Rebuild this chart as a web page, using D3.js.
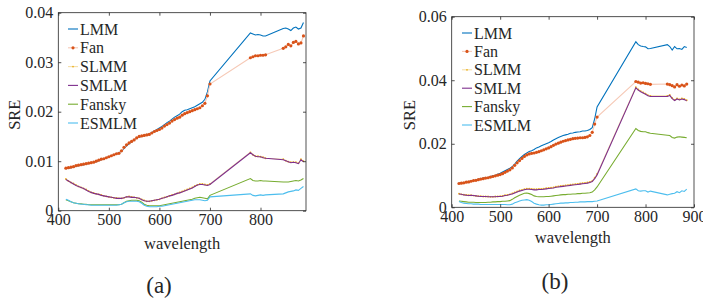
<!DOCTYPE html>
<html>
<head>
<meta charset="utf-8">
<script src="https://cdn.jsdelivr.net/npm/d3@7"></script>
<style>
body { margin: 0; background: #fff; }
</style>
</head>
<body>
<script>
// sampled wavelengths (bands 705-775 and 815-840 removed)
var wavelength = [
  415,420,425,430,435,440,445,450,455,460,
  465,470,475,480,485,490,495,500,505,510,
  515,520,525,530,535,540,545,550,555,560,
  565,570,575,580,585,590,595,600,605,610,
  615,620,625,630,635,640,645,650,655,660,
  665,670,675,680,685,690,695,700,
  780,785,790,795,800,805,810,
  845,850,855,860,865,870,875,880,885
];
var seriesNames = ["LMM", "Fan", "SLMM", "SMLM", "Fansky", "ESMLM"];

var xTicksA = [400, 500, 600, 700, 800];
var yTicksA = [0, 0.01, 0.02, 0.03, 0.04];
var xTicksB = [400, 500, 600, 700, 800, 900];
var yTicksB = [0, 0.02, 0.04, 0.06];

// panel (a)
var lmmA = [
  .0085,.0086,.0087,.0088,.0090,.0091,.0092,.0093,.0094,.0096,
  .0097,.0098,.0099,.0101,.0103,.0105,.0107,.0109,.0111,.0113,
  .0115,.0117,.0120,.0126,.0131,.0135,.0139,.0143,.0147,.0149,
  .0150,.0152,.0154,.0155,.0158,.0161,.0164,.0167,.0170,.0174,
  .0178,.0181,.0185,.0189,.0192,.0195,.0200,.0203,.0204,.0206,
  .0208,.0210,.0213,.0216,.0219,.0225,.0240,.0262,
  .0359,.0357,.0355,.0356,.0355,.0353,.0353,
  .0368,.0369,.0367,.0364,.0369,.0371,.0367,.0369,.0380
];
var fanA = [
  .0086,.0087,.0088,.0089,.0091,.0092,.0093,.0094,.0095,.0096,
  .0097,.0098,.0100,.0102,.0104,.0105,.0107,.0109,.0111,.0113,
  .0115,.0116,.0121,.0128,.0133,.0137,.0140,.0143,.0147,.0150,
  .0151,.0152,.0153,.0154,.0157,.0160,.0162,.0164,.0167,.0171,
  .0174,.0177,.0181,.0184,.0187,.0189,.0193,.0196,.0198,.0200,
  .0202,.0204,.0206,.0208,.0212,.0217,.0232,.0256,
  .0309,.0311,.0313,.0313,.0314,.0314,.0315,
  .0328,.0331,.0336,.0333,.0340,.0342,.0337,.0339,.0353
];
var slmmA = [
  .0064,.0060,.0057,.0055,.0052,.0049,.0047,.0045,.0043,.0040,
  .0037,.0036,.0034,.0033,.0032,.0030,.0029,.0028,.0027,.0026,
  .0026,.0025,.0025,.0026,.0028,.0029,.0028,.0027,.0026,.0025,
  .0023,.0021,.0019,.0019,.0020,.0021,.0022,.0023,.0025,.0027,
  .0028,.0030,.0032,.0033,.0035,.0037,.0039,.0041,.0043,.0045,
  .0047,.0050,.0052,.0054,.0054,.0053,.0052,.0054,
  .0118,.0113,.0110,.0110,.0109,.0108,.0106,
  .0104,.0101,.0099,.0098,.0098,.0098,.0096,.0104,.0100
];
var smlmA = [
  .0063,.0060,.0057,.0054,.0051,.0049,.0047,.0045,.0042,.0039,
  .0037,.0035,.0034,.0033,.0031,.0030,.0029,.0028,.0027,.0026,
  .0025,.0025,.0025,.0026,.0028,.0028,.0027,.0027,.0026,.0025,
  .0022,.0020,.0019,.0019,.0020,.0021,.0022,.0023,.0025,.0026,
  .0028,.0030,.0031,.0033,.0035,.0036,.0038,.0040,.0042,.0044,
  .0046,.0049,.0052,.0053,.0053,.0052,.0051,.0053,
  .0117,.0113,.0110,.0109,.0109,.0107,.0106,
  .0103,.0101,.0099,.0097,.0098,.0097,.0095,.0103,.0099
];
var fanskyA = [
  .0022,.0020,.0018,.0016,.0015,.0014,.0014,.0013,.0013,.0012,
  .0012,.0012,.0012,.0012,.0012,.0012,.0012,.0012,.0012,.0012,
  .0012,.0012,.0013,.0016,.0019,.0020,.0021,.0021,.0021,.0020,
  .0017,.0013,.0011,.0010,.0010,.0010,.0010,.0010,.0011,.0012,
  .0013,.0014,.0015,.0016,.0017,.0018,.0019,.0020,.0021,.0022,
  .0023,.0025,.0026,.0027,.0026,.0025,.0024,.0031,
  .0065,.0061,.0060,.0060,.0061,.0060,.0060,
  .0058,.0058,.0058,.0059,.0060,.0061,.0060,.0062,.0065
];
var esmlmA = [
  .0023,.0021,.0018,.0016,.0015,.0014,.0013,.0013,.0012,.0012,
  .0011,.0011,.0011,.0011,.0011,.0011,.0011,.0011,.0011,.0011,
  .0011,.0012,.0013,.0016,.0018,.0019,.0019,.0019,.0019,.0018,
  .0015,.0011,.0009,.0008,.0008,.0008,.0008,.0009,.0009,.0010,
  .0011,.0012,.0013,.0014,.0015,.0016,.0017,.0018,.0019,.0020,
  .0021,.0022,.0022,.0022,.0021,.0020,.0021,.0028,
  .0034,.0031,.0030,.0031,.0032,.0031,.0032,
  .0034,.0036,.0038,.0039,.0040,.0042,.0041,.0045,.0049
];

// panel (b)
var lmmB = [
  .0076,.0077,.0078,.0079,.0081,.0083,.0085,.0086,.0088,.0090,
  .0092,.0093,.0094,.0097,.0099,.0101,.0104,.0107,.0111,.0115,
  .0119,.0123,.0128,.0136,.0145,.0153,.0160,.0166,.0171,.0176,
  .0178,.0182,.0187,.0190,.0194,.0197,.0200,.0203,.0207,.0212,
  .0216,.0220,.0223,.0226,.0228,.0230,.0233,.0234,.0236,.0237,
  .0238,.0240,.0240,.0242,.0245,.0251,.0278,.0316,
  .0521,.0512,.0508,.0506,.0505,.0499,.0500,
  .0512,.0506,.0495,.0506,.0499,.0500,.0497,.0506,.0503
];
var fanB = [
  .0075,.0076,.0077,.0079,.0080,.0082,.0084,.0085,.0087,.0089,
  .0090,.0092,.0093,.0095,.0097,.0099,.0101,.0103,.0106,.0110,
  .0114,.0118,.0124,.0132,.0140,.0147,.0154,.0160,.0165,.0168,
  .0170,.0171,.0173,.0175,.0178,.0181,.0184,.0187,.0191,.0195,
  .0199,.0202,.0205,.0208,.0210,.0212,.0214,.0216,.0217,.0218,
  .0219,.0219,.0220,.0222,.0226,.0236,.0262,.0284,
  .0396,.0394,.0391,.0392,.0390,.0389,.0387,
  .0388,.0386,.0383,.0379,.0386,.0381,.0385,.0382,.0388
];
var slmmB = [
  .0043,.0041,.0040,.0039,.0038,.0038,.0037,.0036,.0035,.0035,
  .0034,.0034,.0034,.0033,.0033,.0034,.0034,.0035,.0036,.0038,
  .0039,.0041,.0044,.0047,.0050,.0053,.0055,.0057,.0059,.0059,
  .0058,.0057,.0057,.0058,.0058,.0059,.0060,.0061,.0062,.0063,
  .0065,.0066,.0067,.0068,.0069,.0070,.0071,.0072,.0073,.0074,
  .0075,.0076,.0077,.0078,.0080,.0083,.0093,.0105,
  .0378,.0371,.0366,.0362,.0358,.0353,.0351,
  .0351,.0354,.0344,.0338,.0343,.0340,.0343,.0341,.0337
];
var smlmB = [
  .0042,.0041,.0039,.0038,.0037,.0038,.0037,.0036,.0035,.0034,
  .0034,.0034,.0033,.0033,.0033,.0033,.0034,.0034,.0035,.0037,
  .0038,.0040,.0042,.0045,.0048,.0051,.0053,.0055,.0057,.0057,
  .0056,.0055,.0055,.0056,.0056,.0057,.0058,.0059,.0060,.0061,
  .0063,.0064,.0065,.0066,.0067,.0068,.0069,.0070,.0071,.0072,
  .0073,.0074,.0075,.0076,.0078,.0081,.0090,.0102,
  .0376,.0369,.0364,.0360,.0356,.0351,.0349,
  .0349,.0352,.0342,.0336,.0341,.0338,.0341,.0339,.0335
];
var fanskyB = [
  .0020,.0019,.0018,.0017,.0016,.0016,.0016,.0015,.0015,.0015,
  .0015,.0015,.0016,.0016,.0017,.0017,.0018,.0018,.0019,.0019,
  .0020,.0021,.0025,.0030,.0034,.0038,.0041,.0044,.0045,.0043,
  .0040,.0036,.0034,.0033,.0033,.0033,.0034,.0034,.0035,.0036,
  .0037,.0038,.0039,.0040,.0040,.0041,.0041,.0042,.0042,.0043,
  .0043,.0044,.0044,.0045,.0046,.0048,.0055,.0064,
  .0248,.0242,.0239,.0238,.0238,.0235,.0233,
  .0227,.0226,.0220,.0218,.0221,.0222,.0221,.0220,.0219
];
var esmlmB = [
  .0018,.0015,.0013,.0012,.0011,.0011,.0010,.0010,.0010,.0009,
  .0009,.0009,.0009,.0009,.0009,.0009,.0009,.0009,.0009,.0009,
  .0008,.0008,.0010,.0014,.0017,.0020,.0022,.0023,.0024,.0022,
  .0018,.0013,.0010,.0008,.0007,.0007,.0008,.0008,.0009,.0010,
  .0011,.0012,.0013,.0013,.0014,.0014,.0015,.0015,.0016,.0016,
  .0017,.0017,.0017,.0018,.0018,.0018,.0019,.0020,
  .0058,.0052,.0051,.0052,.0052,.0048,.0051,
  .0039,.0041,.0043,.0044,.0049,.0046,.0052,.0050,.0057
];

var serif = "'Liberation Serif', 'Times New Roman', Times, serif";

// line colour, marker colour (null = none)
var styles = {
  "LMM":    { line: "#0072BD", marker: null, r: 0 },
  "Fan":    { line: "#F6C9B6", marker: "#D95319", r: 1.6 },
  "SLMM":   { line: "#F5DFA8", marker: "#EDB120", r: 0.9 },
  "SMLM":   { line: "#7E2F8E", marker: null, r: 0 },
  "Fansky": { line: "#77AC30", marker: null, r: 0 },
  "ESMLM":  { line: "#4DBEEE", marker: null, r: 0 }
};

var panels = [
  { sub: "(a)", left: 58.3, right: 306, top: 12.7, bottom: 210.7,
    xDomain: [400, 890], yDomain: [0, 0.04], xTicks: xTicksA, yTicks: yTicksA,
    series: [lmmA, fanA, slmmA, smlmA, fanskyA, esmlmA],
    legendX: 68, legendY: 29, legendStep: 18.8,
    yLabelX: 20, xLabelY: 249, subX: 159, subY: 293 },
  { sub: "(b)", left: 451.7, right: 694, top: 16.7, bottom: 207.3,
    xDomain: [400, 900], yDomain: [0, 0.06], xTicks: xTicksB, yTicks: yTicksB,
    series: [lmmB, fanB, slmmB, smlmB, fanskyB, esmlmB],
    legendX: 462, legendY: 33, legendStep: 18.4,
    yLabelX: 415, xLabelY: 243, subX: 555, subY: 289 }
];

var svg = d3.select("body").append("svg").attr("width", 703).attr("height", 302)
  .attr("font-family", serif);

function yFormat(d) {
  return d === 0 ? "0" : d3.format(".2f")(d);
}

function styleAxis(g) {
  g.attr("font-family", serif);
  g.select(".domain").remove();
  g.selectAll("line").attr("stroke", "#262626").attr("stroke-width", 0.8);
  g.selectAll("text").attr("font-size", 16).attr("fill", "#262626").attr("font-family", serif);
}

function addText(g, x, y, size, str) {
  return g.append("text").attr("x", x).attr("y", y)
    .attr("font-family", serif).attr("font-size", size).attr("fill", "#262626").text(str);
}

function drawPanel(p) {
  p.series.forEach(function (s, i) {
    if (s.length !== wavelength.length) throw new Error(p.sub + " " + seriesNames[i] + " length " + s.length);
  });
  var x = d3.scaleLinear().domain(p.xDomain).range([p.left, p.right]);
  var y = d3.scaleLinear().domain(p.yDomain).range([p.bottom, p.top]);
  var g = svg.append("g");

  var line = d3.line().x(function (d) { return x(d[0]); }).y(function (d) { return y(d[1]); });

  p.series.forEach(function (vals, i) {
    var st = styles[seriesNames[i]];
    var pts = wavelength.map(function (w, j) { return [w, vals[j]]; });
    g.append("path").datum(pts).attr("d", line)
      .attr("fill", "none").attr("stroke", st.line).attr("stroke-width", 1.1);
    if (st.marker) {
      g.selectAll(null).data(pts).enter().append("circle")
        .attr("cx", function (d) { return x(d[0]); })
        .attr("cy", function (d) { return y(d[1]); })
        .attr("r", st.r).attr("fill", st.marker);
    }
  });

  // box and inward ticks on all four sides
  g.append("rect").attr("x", p.left).attr("y", p.top)
    .attr("width", p.right - p.left).attr("height", p.bottom - p.top)
    .attr("fill", "none").attr("stroke", "#262626").attr("stroke-width", 0.8);

  g.append("g").attr("transform", "translate(0," + p.bottom + ")")
    .call(d3.axisBottom(x).tickValues(p.xTicks).tickSize(-3).tickPadding(3)).call(styleAxis);
  g.append("g").attr("transform", "translate(0," + p.top + ")")
    .call(d3.axisTop(x).tickValues(p.xTicks).tickSize(-3).tickFormat("")).call(styleAxis);
  g.append("g").attr("transform", "translate(" + p.left + ",0)")
    .call(d3.axisLeft(y).tickValues(p.yTicks).tickSize(-3).tickPadding(5).tickFormat(yFormat)).call(styleAxis);
  g.append("g").attr("transform", "translate(" + p.right + ",0)")
    .call(d3.axisRight(y).tickValues(p.yTicks).tickSize(-3).tickFormat("")).call(styleAxis);

  // axis labels
  addText(g, (p.left + p.right) / 2, p.xLabelY, 16.5, "wavelength").attr("text-anchor", "middle");
  addText(g, 0, 0, 16.5, "SRE").attr("text-anchor", "middle")
    .attr("transform", "translate(" + p.yLabelX + "," + ((p.top + p.bottom) / 2 + 3) + ") rotate(-90)");

  // legend
  seriesNames.forEach(function (name, i) {
    var st = styles[name];
    var ly = p.legendY + i * p.legendStep;
    g.append("line").attr("x1", p.legendX).attr("x2", p.legendX + 10)
      .attr("y1", ly).attr("y2", ly).attr("stroke", st.line).attr("stroke-width", 1.1);
    if (st.marker) {
      g.append("circle").attr("cx", p.legendX + 5).attr("cy", ly).attr("r", st.r).attr("fill", st.marker);
    }
    addText(g, p.legendX + 12, ly, 16, name).attr("dy", "0.35em");
  });

  addText(g, p.subX, p.subY, 23, p.sub).attr("text-anchor", "middle");
}

panels.forEach(drawPanel);
</script>
</body>
</html>
